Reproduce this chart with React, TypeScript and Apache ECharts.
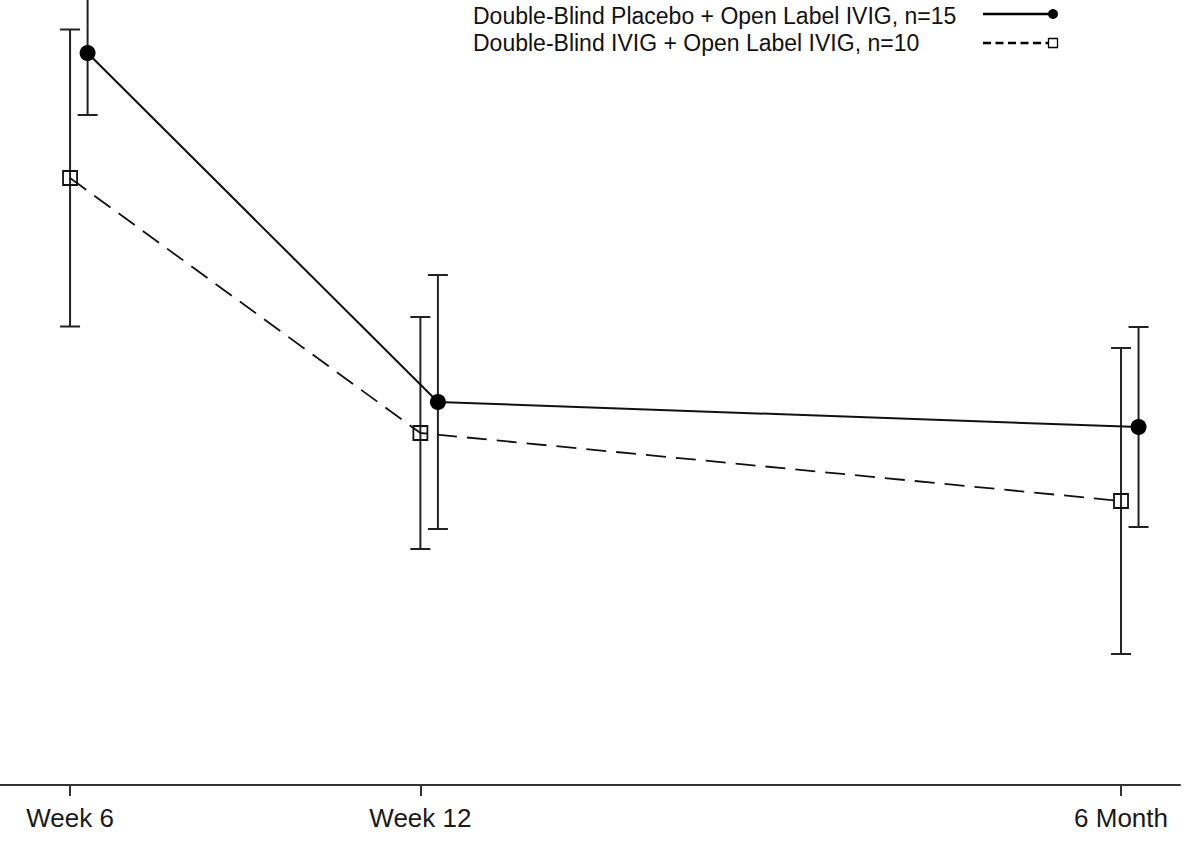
import React, { useEffect, useRef } from "react";
import * as echarts from "echarts";

// Time points (weeks since start) and their tick labels
const xWeeks = [6, 12, 24];
const xLabels = ["Week 6", "Week 12", "6 Month"];

// Series names
const seriesNames = [
  "Double-Blind Placebo + Open Label IVIG, n=15",
  "Double-Blind IVIG + Open Label IVIG, n=10",
];

// Means and error half-widths (arbitrary units)
const placeboMeans = [7.32, 3.83, 3.58];
const placeboErr = [0.62, 1.27, 1.0];
const ivigMeans = [6.07, 3.52, 2.84];
const ivigErr = [1.485, 1.16, 1.53];

// horizontal dodge of the first series (weeks)
const DODGE = 0.3;

const FONT = '"Liberation Sans", Arial, Helvetica, sans-serif';

export default function App() {
  const ref = useRef<HTMLDivElement>(null);

  useEffect(() => {
    if (!ref.current) return;
    const chart = echarts.init(ref.current, null, { renderer: "svg" });

    const lineData = (means: number[], dx: number) =>
      means.map((m, i) => [xWeeks[i] + dx, m]);
    const errData = (means: number[], errs: number[], dx: number) =>
      means.map((m, i) => [xWeeks[i] + dx, m - errs[i], m + errs[i]]);

    const errRender = (params: any, api: any) => {
      const x = api.value(0);
      const lo = api.coord([x, api.value(1)]);
      const hi = api.coord([x, api.value(2)]);
      const cap = 10;
      const style = { stroke: "#222", lineWidth: 2 };
      return {
        type: "group",
        children: [
          { type: "line", shape: { x1: lo[0], y1: lo[1], x2: hi[0], y2: hi[1] }, style },
          { type: "line", shape: { x1: hi[0] - cap, y1: hi[1], x2: hi[0] + cap, y2: hi[1] }, style },
          { type: "line", shape: { x1: lo[0] - cap, y1: lo[1], x2: lo[0] + cap, y2: lo[1] }, style },
        ],
      };
    };

    chart.setOption({
      animation: false,
      backgroundColor: "#fff",
      grid: { left: 0, right: 8, top: 0, bottom: 56 },
      xAxis: {
        type: "value",
        min: 4.8,
        max: 25.01,
        splitLine: { show: false },
        axisLine: { show: true, onZero: false, lineStyle: { color: "#333", width: 2 } },
        axisTick: {
          show: true,
          customValues: xWeeks,
          length: 11,
          lineStyle: { color: "#333", width: 2 },
        },
        axisLabel: {
          customValues: xWeeks,
          margin: 20,
          fontSize: 26,
          fontFamily: FONT,
          color: "#1a1a1a",
          formatter: (v: number) => {
            const i = xWeeks.indexOf(v);
            return i >= 0 ? xLabels[i] : "";
          },
        },
      },
      yAxis: {
        type: "value",
        min: 0,
        max: 7.85,
        show: false,
        splitLine: { show: false },
      },
      series: [
        {
          name: seriesNames[0] + " error",
          type: "custom",
          renderItem: errRender,
          data: errData(placeboMeans, placeboErr, DODGE),
          encode: { x: 0, y: [1, 2] },
          clip: false,
          z: 3,
        },
        {
          name: seriesNames[1] + " error",
          type: "custom",
          renderItem: errRender,
          data: errData(ivigMeans, ivigErr, 0),
          encode: { x: 0, y: [1, 2] },
          clip: false,
          z: 3,
        },
        {
          name: seriesNames[0],
          type: "line",
          data: lineData(placeboMeans, DODGE),
          symbol: "circle",
          symbolSize: 16,
          itemStyle: { color: "#000" },
          lineStyle: { color: "#111", width: 2, type: "solid" },
          z: 4,
        },
        {
          name: seriesNames[1],
          type: "line",
          data: lineData(ivigMeans, 0),
          symbol: "rect",
          symbolSize: 14,
          itemStyle: { color: "rgba(255,255,255,0)", borderColor: "#111", borderWidth: 1.8 },
          lineStyle: { color: "#111", width: 1.8, type: [20, 10] },
          z: 4,
        },
      ],
      graphic: [
        {
          type: "text",
          left: 473,
          top: 4,
          style: { text: seriesNames[0], font: `23px ${FONT}`, fill: "#111" },
        },
        {
          type: "text",
          left: 473,
          top: 31,
          style: { text: seriesNames[1], font: `23px ${FONT}`, fill: "#111" },
        },
        {
          type: "line",
          shape: { x1: 983, y1: 14, x2: 1053, y2: 14 },
          style: { stroke: "#000", lineWidth: 2.5 },
        },
        {
          type: "circle",
          shape: { cx: 1053, cy: 14, r: 5 },
          style: { fill: "#000" },
        },
        {
          type: "line",
          shape: { x1: 983, y1: 43, x2: 1048, y2: 43 },
          style: { stroke: "#000", lineWidth: 2.5, lineDash: [8, 4.5] },
        },
        {
          type: "rect",
          shape: { x: 1048.5, y: 38.5, width: 9, height: 9 },
          style: { fill: "#fff", stroke: "#000", lineWidth: 1.3 },
        },
      ],
    });

    return () => chart.dispose();
  }, []);

  return (
    <div
      ref={ref}
      style={{ position: "absolute", left: 0, top: 0, width: 1188, height: 841 }}
    />
  );
}
